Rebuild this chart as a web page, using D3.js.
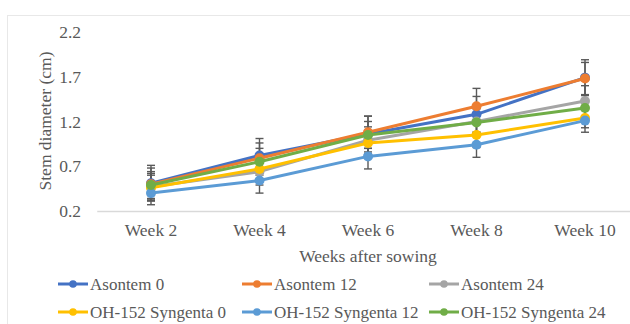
<!DOCTYPE html>
<html><head><meta charset="utf-8">
<script src="https://cdn.jsdelivr.net/npm/d3@7"></script>
<style>body{margin:0;background:#fff;} text{font-family:"Liberation Serif","Times New Roman",serif;fill:#595959;}</style>
</head><body>
<svg id="c" width="630" height="324"></svg>
<script>
const weeks = ["Week 2","Week 4","Week 6","Week 8","Week 10"];
const seriesNames = ["Asontem 0","Asontem 12","Asontem 24","OH-152 Syngenta 0","OH-152 Syngenta 12","OH-152 Syngenta 24"];
const asontem0 = [0.51,0.82,1.06,1.28,1.69];
const asontem12 = [0.50,0.79,1.08,1.37,1.68];
const asontem24 = [0.47,0.64,0.99,1.20,1.43];
const oh0 = [0.46,0.67,0.96,1.05,1.24];
const oh12 = [0.40,0.54,0.81,0.94,1.21];
const oh24 = [0.49,0.75,1.05,1.19,1.35];
const err0 = [0.20,0.19,0.20,0.20,0.20];
const err12 = [0.18,0.17,0.18,0.20,0.18];
const err24 = [0.15,0.15,0.15,0.15,0.17];
const errOh0 = [0.14,0.14,0.14,0.14,0.11];
const errOh12 = [0.13,0.14,0.14,0.14,0.13];
const errOh24 = [0.15,0.15,0.15,0.15,0.15];
const yTicks = [0.2,0.7,1.2,1.7,2.2];
const colors = ["#4472C4","#ED7D31","#A5A5A5","#FFC000","#5B9BD5","#70AD47"];

const values = [asontem0,asontem12,asontem24,oh0,oh12,oh24];
const errors = [err0,err12,err24,errOh0,errOh12,errOh24];
const series = seriesNames.map((n,i)=>({name:n,color:colors[i],pts:weeks.map((w,j)=>({w,v:values[i][j],e:errors[i][j]}))}));

const FS = 17.5;
const svg = d3.select("#c");
svg.append("rect").attr("x",7.5).attr("y",15.5).attr("width",640).attr("height",330).attr("fill","none").attr("stroke","#e8e8e8");

const x = d3.scaleBand().domain(weeks).range([96.75,639.25]).padding(0);
const y = d3.scaleLinear().domain([0.2,2.2]).range([211,32]);
const cx = w => x(w)+x.bandwidth()/2;

// x axis
const xa = svg.append("g").attr("transform","translate(0,211)").call(d3.axisBottom(x).tickSize(0).tickPadding(13));
xa.select(".domain").attr("stroke","#d9d9d9").attr("stroke-width",1.3);
xa.selectAll("text").attr("font-size",FS).attr("fill","#595959").style("font-family","Liberation Serif");

// y axis
const ya = svg.append("g").attr("transform","translate(88,0)").call(d3.axisLeft(y).tickValues(yTicks).tickFormat(d3.format(".1f")).tickSize(0).tickPadding(7));
ya.select(".domain").remove();
ya.selectAll("text").attr("font-size",FS).attr("fill","#595959").style("font-family","Liberation Serif");

// titles
svg.append("text").attr("x",368).attr("y",262).attr("text-anchor","middle").attr("font-size",FS).text("Weeks after sowing");
svg.append("text").attr("transform","translate(51,121) rotate(-90)").attr("text-anchor","middle").attr("font-size",FS).text("Stem diameter (cm)");

// error bars
const eb = svg.append("g");
series.forEach(s=>{
  s.pts.forEach(p=>{
    const X = cx(p.w);
    eb.append("line").attr("x1",X).attr("x2",X).attr("y1",y(p.v+p.e)).attr("y2",y(p.v-p.e)).attr("stroke","#595959").attr("stroke-width",1.4);
    [p.v+p.e,p.v-p.e].forEach(v=>eb.append("line").attr("x1",X-4).attr("x2",X+4).attr("y1",y(v)).attr("y2",y(v)).attr("stroke","#595959").attr("stroke-width",1.4));
  });
});

// lines & markers
const line = d3.line().x(d=>cx(d.w)).y(d=>y(d.v));
series.forEach(s=>{
  const g = svg.append("g");
  g.append("path").datum(s.pts).attr("d",line).attr("fill","none").attr("stroke",s.color).attr("stroke-width",3).attr("stroke-linejoin","round").attr("stroke-linecap","round");
  g.selectAll("circle").data(s.pts).join("circle").attr("cx",d=>cx(d.w)).attr("cy",d=>y(d.v)).attr("r",5).attr("fill",s.color);
});

// legend
const legX = [58,242,429];
const legY = [284,312];
series.forEach((s,i)=>{
  const gx = legX[i%3], gy = legY[Math.floor(i/3)];
  const g = svg.append("g");
  g.append("line").attr("x1",gx).attr("x2",gx+30).attr("y1",gy).attr("y2",gy).attr("stroke",s.color).attr("stroke-width",3);
  g.append("circle").attr("cx",gx+15).attr("cy",gy).attr("r",3.8).attr("fill",s.color);
  g.append("text").attr("x",gx+32).attr("y",gy).attr("dy","0.35em").attr("font-size",17).text(s.name);
});
</script>
</body></html>
